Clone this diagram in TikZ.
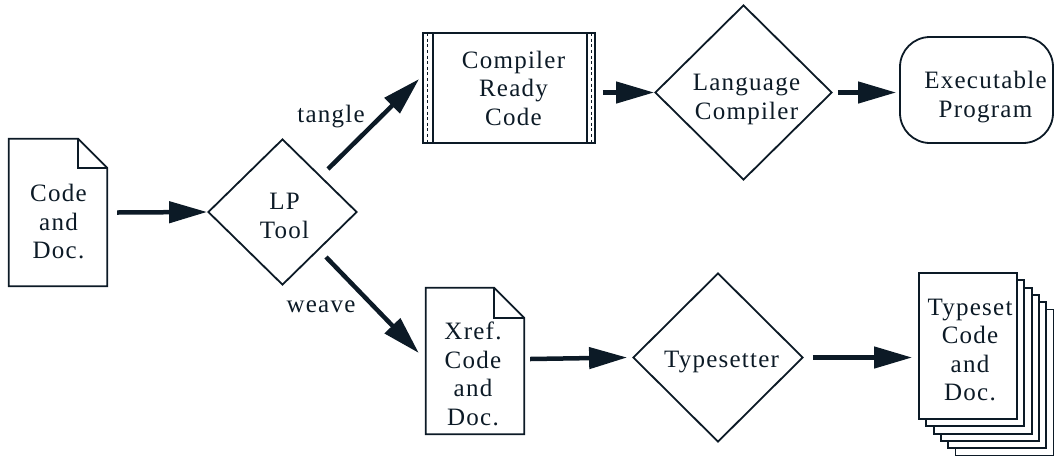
\documentclass[tikz,border=0pt]{standalone}
\usepackage{fontspec}
\setmainfont{Liberation Serif}
\newfontfamily\trackedserif[LetterSpace=5]{Liberation Serif}
\usetikzlibrary{shapes.geometric,arrows.meta,calc}
\definecolor{ink}{RGB}{12,26,38}

\begin{document}
\begin{tikzpicture}[x=1pt,y=-1pt,
  lbl/.style={font=\fontsize{25}{28.5}\selectfont\trackedserif, align=center, text=ink, inner sep=0pt},
  outline/.style={draw=ink, line width=1.8pt},
  docbox/.style={minimum width=98pt, minimum height=147pt, inner sep=0pt},
  pagebox/.style={outline, fill=white, minimum width=98pt, minimum height=146pt, inner sep=0pt},
  decide/.style={outline, diamond, inner sep=0pt},
  procbox/.style={outline, rectangle, minimum width=172pt, minimum height=110pt, inner sep=0pt},
  endbox/.style={outline, rectangle, rounded corners=30pt, minimum width=153pt, minimum height=106pt, inner sep=0pt},
  flow/.style={draw=ink, line width=4.5pt, -{Triangle[length=38pt,width=21pt]}},
  stripe/.style={draw=ink, line width=1.5pt, dash pattern=on 3pt off 2.6pt},
]
\useasboundingbox (0,0) rectangle (1055,459);

% source document with folded corner
\node[docbox] (src) at (58,212.5) {};
\draw[outline] (src.south west) -- (src.north west) -- ($(src.north east)+(-29,0)$)
  -- ($(src.north east)+(0,29)$) -- (src.south east) -- cycle;
\draw[outline] ($(src.north east)+(-29,0)$) |- ($(src.north east)+(0,29)$);
\node[lbl] (src-t) at ($(src)+(0.5,9)$) {Code\\and\\Doc.};

% literate programming tool
\node[decide, minimum width=149pt, minimum height=146pt] (lp) at (282.5,212) {};
\node[lbl] (lp-t) at ($(lp)+(2,4)$) {LP\\Tool};

% compiler-ready code (predefined process box)
\node[procbox] (crc) at (509,88) {};
\draw[outline] ($(crc.north west)+(11,0)$) -- ($(crc.south west)+(11,0)$);
\draw[outline] ($(crc.north east)+(-9,0)$) -- ($(crc.south east)+(-9,0)$);
\draw[stripe] ($(crc.north west)+(5.5,1)$) -- ($(crc.south west)+(5.5,-1)$);
\draw[stripe] ($(crc.north east)+(-4.5,1)$) -- ($(crc.south east)+(-4.5,-1)$);
\node[lbl] (crc-t) at ($(crc)+(4.5,0)$) {Compiler\\Ready\\Code};

% language compiler and executable
\node[decide, minimum width=177pt, minimum height=175pt] (lc) at (743.5,92.5) {};
\node[lbl] (lc-t) at ($(lc)+(3,7)$) {Language\\Compiler};
\node[endbox] (exe) at (976.5,90) {};
\node[lbl] (exe-t) at ($(exe)+(9,7)$) {Executable\\Program};

% cross-referenced document with folded corner
\node[docbox, minimum height=146pt] (xref) at (475,361) {};
\draw[outline] (xref.south west) -- (xref.north west) -- ($(xref.north east)+(-30,0)$)
  -- ($(xref.north east)+(0,30)$) -- (xref.south east) -- cycle;
\draw[outline] ($(xref.north east)+(-30,0)$) |- ($(xref.north east)+(0,30)$);
\node[lbl] (xref-t) at ($(xref)+(-2,13)$) {Xref.\\Code\\and\\Doc.};

% typesetter
\node[decide, minimum width=170pt, minimum height=169pt] (ts) at (718,357.5) {};
\node[lbl] (ts-t) at ($(ts)+(3.5,5)$) {Typesetter};

% stack of typeset pages
\coordinate (pile) at (968,346);
\foreach \k in {5,4,3,2,1}{
  \draw[outline, fill=white] ($(pile)+(7.3*\k-49,7.3*\k-73)$) rectangle ++(98,146);
}
\node[pagebox] (out) at (pile) {};
\node[lbl] (out-t) at ($(out)+(2,4)$) {Typeset\\Code\\and\\Doc.};

% branch labels
\node[lbl] (tl) at (331,117) {tangle};
\node[lbl] (wl) at (321,307) {weave};

% connectors
\draw[flow] ($(src.east)+(10,0)$) -- (lp.west);
\draw[flow] ($(lp.center)+(45.5,-43)$) -- ($(crc.west)+(-3,-9)$);
\draw[flow] ($(crc.east |- lc.west)+(7,0)$) -- (lc.west);
\draw[flow] ($(lc.east)+(5,0)$) -- ($(exe.west |- lc.east)+(-3,0)$);
\draw[flow] ($(lp.center)+(43.5,45)$) -- ($(xref.west)+(-7,-8)$);
\draw[flow] ($(xref.east)+(6,-2)$) -- ($(ts.west)+(-5,0)$);
\draw[flow] ($(ts.east)+(9,0)$) -- ($(out.west |- ts.east)+(-6,0)$);
\end{tikzpicture}
\end{document}
